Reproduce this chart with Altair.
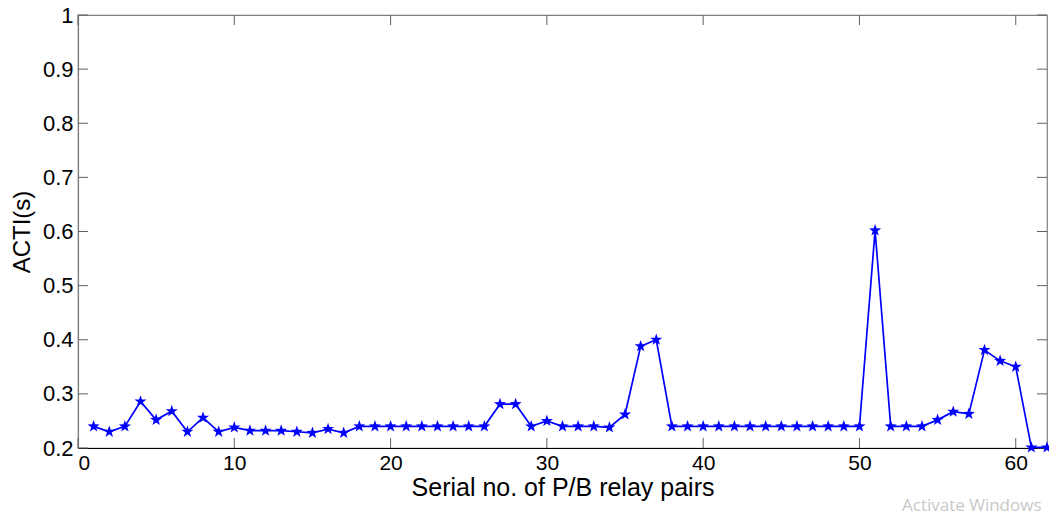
import altair as alt
import pandas as pd

pair_no = list(range(1, 63))
acti = [0.240, 0.230, 0.240, 0.286, 0.252, 0.268, 0.230, 0.256, 0.230, 0.238,
        0.232, 0.232, 0.232, 0.230, 0.228, 0.235, 0.228, 0.240, 0.240, 0.240,
        0.240, 0.240, 0.240, 0.240, 0.240, 0.240, 0.281, 0.281, 0.240, 0.250,
        0.240, 0.240, 0.240, 0.238, 0.262, 0.388, 0.400, 0.240, 0.240, 0.240,
        0.240, 0.240, 0.240, 0.240, 0.240, 0.240, 0.240, 0.240, 0.240, 0.240,
        0.602, 0.240, 0.240, 0.240, 0.252, 0.267, 0.263, 0.381, 0.361, 0.350,
        0.201, 0.201]
x_ticks = [0, 10, 20, 30, 40, 50, 60]
y_ticks = [0.2, 0.3, 0.4, 0.5, 0.6, 0.7, 0.8, 0.9, 1.0]

df = pd.DataFrame({"n": pair_no, "acti": acti})
xt = pd.DataFrame({"t": x_ticks})
yt = pd.DataFrame({"t": y_ticks})

W, H = 969, 433
FONT = "Liberation Sans"
BLUE = "#0000ff"
star = ("M0,-1L0.235,-0.324L0.951,-0.309L0.380,0.124L0.588,0.809L0,0.4"
        "L-0.588,0.809L-0.380,0.124L-0.951,-0.309L-0.235,-0.324Z")

xs = alt.Scale(domain=[0, 62], nice=False, zero=False)
ys = alt.Scale(domain=[0.2, 1.0], nice=False, zero=False)

xaxis = alt.Axis(values=x_ticks, title="Serial no. of P/B relay pairs", tickSize=0,
                 labelPadding=4, grid=False, domainColor="black", domainWidth=1.2,
                 labelFont=FONT, labelFontSize=21, labelColor="black",
                 titleFont=FONT, titleFontSize=25, titleFontWeight="normal",
                 titleColor="black", titlePadding=2)
yaxis = alt.Axis(values=y_ticks, title="ACTI(s)", tickSize=0, labelPadding=5,
                 grid=False, domainColor="#808080", domainWidth=1.2,
                 labelExpr="format(datum.value, '~g')",
                 labelFont=FONT, labelFontSize=22, labelColor="black",
                 titleFont=FONT, titleFontSize=24, titleFontWeight="normal",
                 titleColor="black", titlePadding=8)

line = alt.Chart(df).mark_line(color=BLUE, strokeWidth=1.7).encode(
    x=alt.X("n:Q", scale=xs, axis=xaxis),
    y=alt.Y("acti:Q", scale=ys, axis=yaxis),
)
pts = alt.Chart(df).mark_point(shape=star, filled=True, color=BLUE, size=160,
                               opacity=1).encode(
    x=alt.X("n:Q", scale=xs), y=alt.Y("acti:Q", scale=ys))

tick_col = "#606060"
xb = alt.Chart(xt).mark_rule(color=tick_col, strokeWidth=1).encode(
    x=alt.X("t:Q", scale=xs), y=alt.value(H), y2=alt.value(H - 10))
xtop = alt.Chart(xt).mark_rule(color=tick_col, strokeWidth=1).encode(
    x=alt.X("t:Q", scale=xs), y=alt.value(0), y2=alt.value(10))
yl = alt.Chart(yt).mark_rule(color=tick_col, strokeWidth=1).encode(
    y=alt.Y("t:Q", scale=ys), x=alt.value(0), x2=alt.value(10))
yr = alt.Chart(yt).mark_rule(color=tick_col, strokeWidth=1).encode(
    y=alt.Y("t:Q", scale=ys), x=alt.value(W), x2=alt.value(W - 10))

wm = alt.Chart(pd.DataFrame({"s": ["Activate Windows"]})).mark_text(
    font="Open Sans", fontSize=17, color="#c8c8c8", align="left", baseline="middle"
).encode(text="s:N", x=alt.value(824), y=alt.value(506 - 15))

chart = alt.layer(xb, xtop, yl, yr, line, pts, wm).properties(
    width=W, height=H,
    padding={"left": 78, "top": 15, "right": 2, "bottom": 70},
    autosize=alt.AutoSizeParams(type="none"),
    background="white",
).configure_view(stroke="#808080", strokeWidth=1.2)

chart.save("out.html", embed_options={"renderer": "svg", "actions": False})
